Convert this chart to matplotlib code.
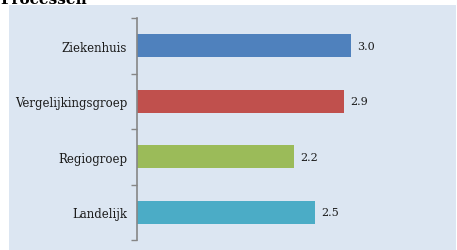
import matplotlib.pyplot as plt
from matplotlib.patches import Rectangle
import numpy as np

categories = ["Ziekenhuis", "Vergelijkingsgroep", "Regiogroep", "Landelijk"]
values = [3.0, 2.9, 2.2, 2.5]
colors = ["#4f81bd", "#c0504d", "#9bbb59", "#4bacc6"]
title = "Processen"

W, H = 457, 251
fig = plt.figure(figsize=(W / 100, H / 100), dpi=100)
fig.patch.set_facecolor("white")

# light blue panel behind the chart
fig.add_artist(Rectangle((9 / W, 0), 447 / W, (H - 6) / H,
                         transform=fig.transFigure, facecolor="#dce6f2",
                         edgecolor="none", zorder=-1))
# title, cut off at the top like in the source image
fig.text(0 / W, 1 - 4 / H, title, fontsize=11, fontweight="bold",
         family="DejaVu Serif", va="baseline", ha="left", color="black")

ax = fig.add_axes([137 / W, 10 / H, (W - 137) / W, 222 / H])
ax.set_facecolor("none")

y = np.arange(len(categories))
bars = ax.barh(y, values, height=0.41, color=colors)
for b, v in zip(bars, values):
    ax.annotate(f"{v:.1f}", (b.get_width(), b.get_y() + b.get_height() / 2),
                xytext=(4.5, 0), textcoords="offset points", va="center",
                ha="left", fontsize=8, family="DejaVu Serif", color="#1a1a1a")

ax.set_xlim(0, 320 / 71.3)
ax.set_ylim(len(categories) - 0.5, -0.5)
ax.set_yticks(y, labels=categories)
ax.set_yticks(np.arange(len(categories) + 1) - 0.5, minor=True)
ax.tick_params(axis="y", which="major", length=0, pad=7, labelsize=8.5,
               labelcolor="#1a1a1a")
ax.tick_params(axis="y", which="minor", length=4, color="#868686", width=1)
for lbl in ax.get_yticklabels():
    lbl.set_family("DejaVu Serif")
ax.set_xticks([])
for s in ["top", "right", "bottom"]:
    ax.spines[s].set_visible(False)
ax.spines["left"].set_color("#868686")
ax.spines["left"].set_linewidth(1.2)

fig.savefig("out.png", dpi=100)
